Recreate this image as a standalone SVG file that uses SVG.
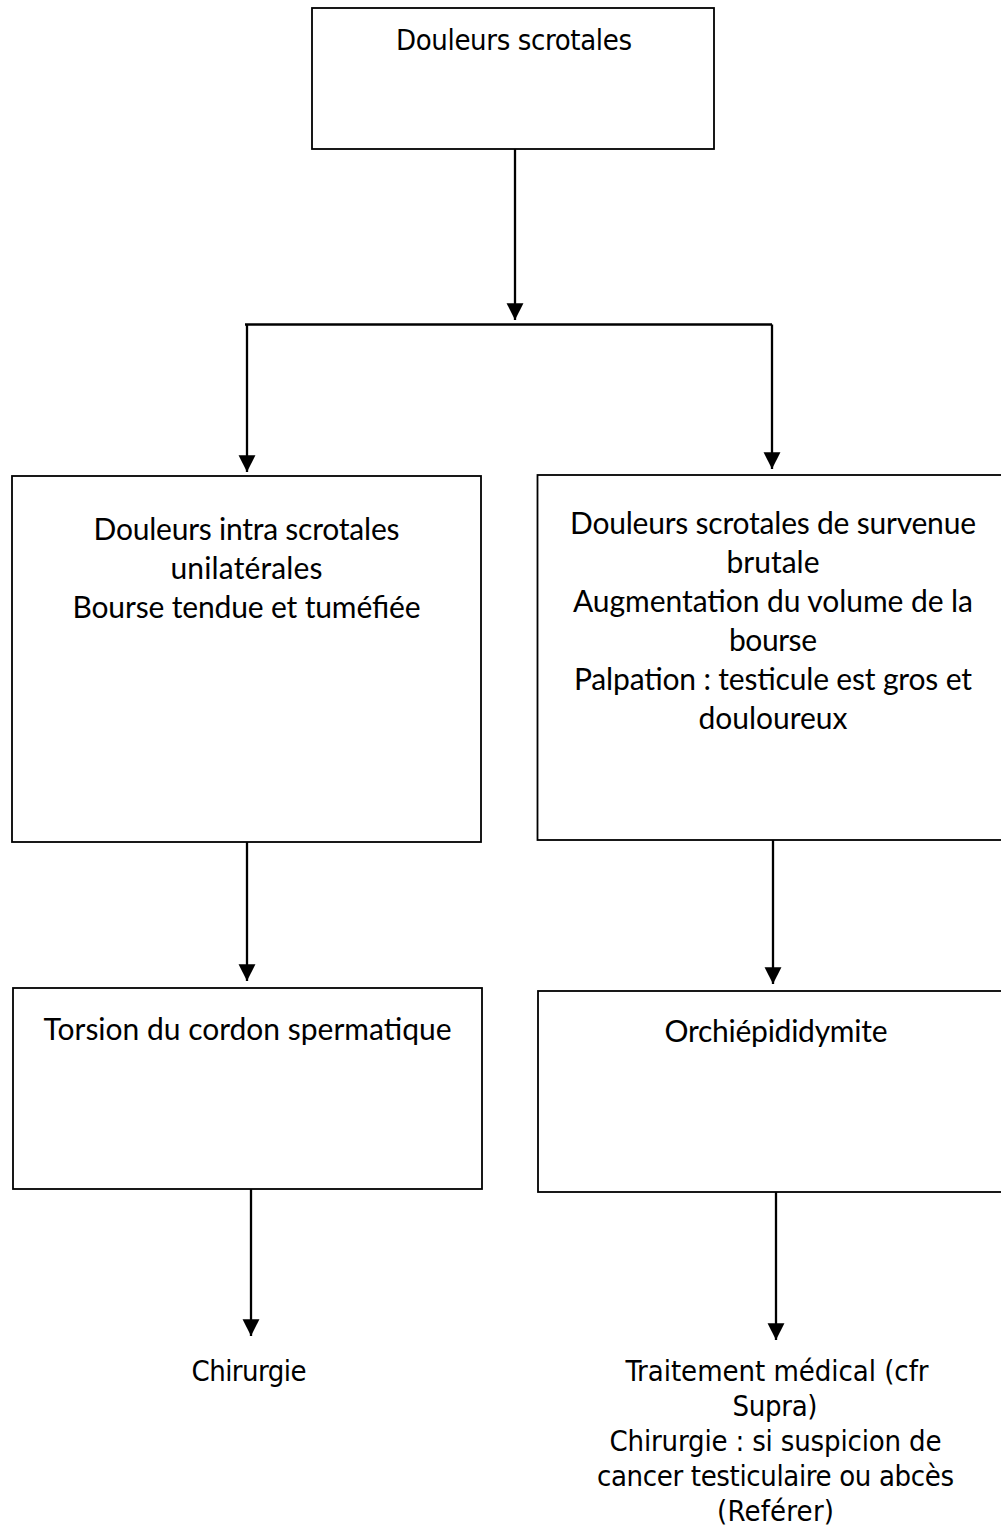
<svg xmlns="http://www.w3.org/2000/svg" width="1001" height="1528" viewBox="0 0 1001 1528">
  <style>
    .box { fill: #ffffff; stroke: #000000; stroke-width: 1.8; }
    .wire { fill: none; stroke: #000000; stroke-width: 2.3; }
    .cal { font-family: "Lato", "Open Sans", sans-serif; font-size: 30px; fill: #000000; text-anchor: middle; }
    .tah { font-family: "DejaVu Sans Condensed", "DejaVu Sans", sans-serif; font-stretch: condensed; font-size: 29px; fill: #000000; text-anchor: middle; }
  </style>
  <defs>
    <marker id="arrow" markerUnits="userSpaceOnUse" markerWidth="18" markerHeight="18" viewBox="0 0 16 15" refX="15" refY="7.5" orient="auto">
      <path d="M0,0 L15,7.5 L0,15 Z" fill="#000000"/>
    </marker>
  </defs>
  <rect width="1001" height="1528" fill="#ffffff"/>

  <!-- connectors -->
  <g id="connectors">
    <path class="wire" d="M515,149 V320" marker-end="url(#arrow)"/>
    <path class="wire" d="M245,324.5 H772"/>
    <path class="wire" d="M247,324.5 V472" marker-end="url(#arrow)"/>
    <path class="wire" d="M772,324.5 V469" marker-end="url(#arrow)"/>
    <path class="wire" d="M247,842 V981" marker-end="url(#arrow)"/>
    <path class="wire" d="M773,840 V984" marker-end="url(#arrow)"/>
    <path class="wire" d="M251,1189 V1336" marker-end="url(#arrow)"/>
    <path class="wire" d="M776,1192 V1340" marker-end="url(#arrow)"/>
  </g>

  <!-- root -->
  <g id="node-douleurs">
    <rect class="box" x="312" y="8" width="402" height="141"/>
    <text class="tah" x="514" y="50" textLength="236">Douleurs scrotales</text>
  </g>

  <!-- left branch -->
  <g id="node-intra">
    <rect class="box" x="12" y="476" width="469" height="366"/>
    <text class="cal" x="246.5" y="540" textLength="306">Douleurs intra scrotales</text>
    <text class="cal" x="246.5" y="579" textLength="152">unilatérales</text>
    <text class="cal" x="246.5" y="618" textLength="348">Bourse tendue et tuméfiée</text>
  </g>

  <!-- right branch -->
  <g id="node-brutale">
    <rect class="box" x="537.5" y="475" width="470" height="365"/>
    <text class="cal" x="773" y="534" textLength="406">Douleurs scrotales de survenue</text>
    <text class="cal" x="773" y="573" textLength="93">brutale</text>
    <text class="cal" x="773" y="612" textLength="400">Augmentation du volume de la</text>
    <text class="cal" x="773" y="651" textLength="88">bourse</text>
    <text class="cal" x="773" y="690" textLength="398">Palpation : testicule est gros et</text>
    <text class="cal" x="773" y="729" textLength="149">douloureux</text>
  </g>

  <g id="node-torsion">
    <rect class="box" x="13" y="988" width="469" height="201"/>
    <text class="cal" x="247.5" y="1040" textLength="408">Torsion du cordon spermatique</text>
  </g>

  <g id="node-orchi">
    <rect class="box" x="538" y="991" width="470" height="201"/>
    <text class="cal" x="776" y="1042" textLength="223">Orchiépididymite</text>
  </g>

  <!-- outcomes -->
  <g id="node-chirurgie">
    <text class="tah" x="249" y="1381" textLength="115">Chirurgie</text>
  </g>

  <g id="node-traitement">
    <text class="tah" x="777" y="1381" textLength="303">Traitement médical (cfr</text>
    <text class="tah" x="775" y="1416" textLength="85">Supra)</text>
    <text class="tah" x="775.5" y="1451" textLength="332">Chirurgie : si suspicion de</text>
    <text class="tah" x="775.5" y="1486" textLength="357">cancer testiculaire ou abcès</text>
    <text class="tah" x="775.5" y="1521" textLength="117">(Reférer)</text>
  </g>
</svg>
